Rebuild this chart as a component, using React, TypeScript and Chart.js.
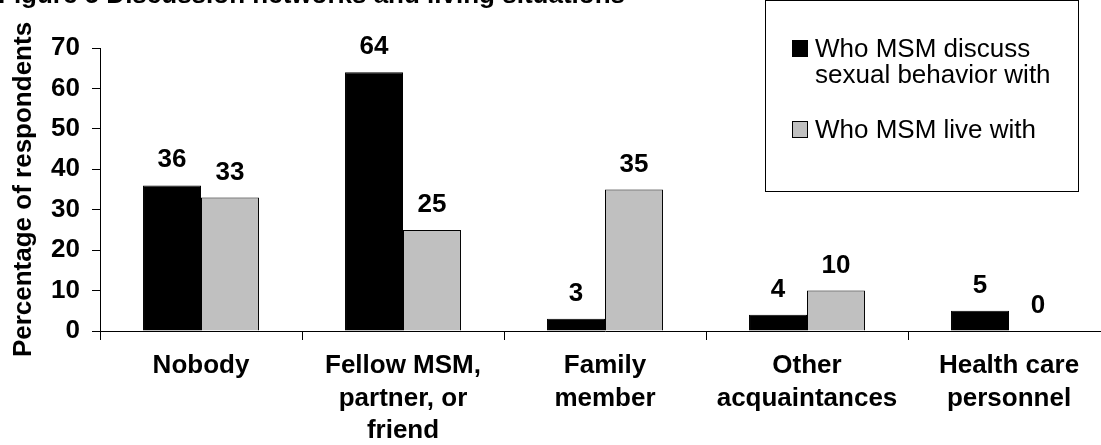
import React, { useEffect, useRef } from "react";
import { Chart, registerables } from "chart.js";

Chart.register(...registerables);

const titleText = "Figure 5 Discussion networks and living situations";
const categories: string[][] = [
  ["Nobody"],
  ["Fellow MSM,", "partner, or", "friend"],
  ["Family", "member"],
  ["Other", "acquaintances"],
  ["Health care", "personnel"],
];
const discussValues = [36, 64, 3, 4, 5];
const liveValues = [33, 25, 35, 10, 0];
const seriesLines: string[][] = [
  ["Who MSM discuss", "sexual behavior with"],
  ["Who MSM live with"],
];
const seriesColors = ["#000000", "#C0C0C0"];
const yTitle = "Percentage of respondents";
const yMin = 0;
const yMax = 70;
const yStep = 10;

const FONT = "'Liberation Sans', Arial, Helvetica, sans-serif";

const titlePlugin = {
  id: "figTitle",
  afterDraw(chart: any) {
    const ctx = chart.ctx;
    ctx.save();
    ctx.font = `bold 26px ${FONT}`;
    ctx.fillStyle = "#000";
    ctx.textAlign = "left";
    ctx.textBaseline = "alphabetic";
    ctx.fillText(titleText, -2, 3);
    ctx.restore();
  },
};

const valueLabelPlugin = {
  id: "valueLabels",
  afterDatasetsDraw(chart: any) {
    const ctx = chart.ctx;
    ctx.save();
    ctx.font = `bold 26px ${FONT}`;
    ctx.fillStyle = "#000";
    ctx.textAlign = "center";
    ctx.textBaseline = "alphabetic";
    chart.data.datasets.forEach((ds: any, di: number) => {
      const meta = chart.getDatasetMeta(di);
      meta.data.forEach((el: any, i: number) => {
        ctx.fillText(String(ds.data[i]), el.x, el.y - 18);
      });
    });
    ctx.restore();
  },
};

const boxLegendPlugin = {
  id: "boxLegend",
  afterDraw(chart: any) {
    const ctx = chart.ctx;
    ctx.save();
    ctx.strokeStyle = "#000";
    ctx.lineWidth = 1;
    ctx.strokeRect(765.5, 0.5, 313, 191);
    ctx.font = `26px ${FONT}`;
    ctx.fillStyle = "#000";
    ctx.textAlign = "left";
    ctx.textBaseline = "alphabetic";
    chart.data.datasets.forEach((ds: any, di: number) => {
      const base = 57 + di * 81;
      ctx.fillStyle = ds.backgroundColor;
      ctx.fillRect(792, base - 17, 16, 17);
      ctx.strokeStyle = "#000";
      ctx.strokeRect(792.5, base - 16.5, 15, 16);
      ctx.fillStyle = "#000";
      const lines = seriesLines[di];
      lines.forEach((ln, li) => {
        ctx.fillText(ln, 815, base + li * 26);
      });
    });
    ctx.restore();
  },
};

export default function App() {
  const ref = useRef<HTMLCanvasElement | null>(null);
  useEffect(() => {
    if (!ref.current) return;
    const chart = new Chart(ref.current, {
      type: "bar",
      data: {
        labels: categories,
        datasets: [
          {
            label: seriesLines[0].join(" "),
            data: discussValues,
            backgroundColor: seriesColors[0],
            borderColor: "#000",
            borderWidth: 1,
          },
          {
            label: seriesLines[1].join(" "),
            data: liveValues,
            backgroundColor: seriesColors[1],
            borderColor: "#000",
            borderWidth: 1,
          },
        ],
      },
      options: {
        animation: false,
        responsive: false,
        maintainAspectRatio: false,
        layout: { padding: { top: 48, right: 20, left: 0, bottom: 0 } },
        datasets: { bar: { categoryPercentage: 0.574, barPercentage: 1 } },
        plugins: {
          legend: { display: false },
          tooltip: { enabled: false },
          title: { display: false },
        },
        scales: {
          x: {
            grid: {
              offset: true,
              drawOnChartArea: false,
              drawTicks: true,
              tickLength: 9,
              color: "#000",
            },
            border: { display: true, color: "#000", width: 1 },
            ticks: {
              color: "#000",
              padding: 10,
              maxRotation: 0,
              autoSkip: false,
              font: { family: FONT, size: 26, weight: "bold", lineHeight: 1.25 },
            },
            afterFit(scale: any) {
              scale.height = 114;
            },
          },
          y: {
            min: yMin,
            max: yMax,
            ticks: {
              stepSize: yStep,
              color: "#000",
              padding: 12,
              font: { family: FONT, size: 26, weight: "bold" },
            },
            grid: {
              drawOnChartArea: false,
              drawTicks: true,
              tickLength: 8,
              color: "#000",
            },
            border: { display: true, color: "#000", width: 1 },
            title: {
              display: true,
              text: yTitle,
              color: "#000",
              padding: { top: 8, bottom: 0 },
              font: { family: FONT, size: 26, weight: "bold", lineHeight: 1.2 },
            },
            afterFit(scale: any) {
              scale.width = 100;
            },
          },
        },
      },
      plugins: [valueLabelPlugin, boxLegendPlugin, titlePlugin],
    });
    return () => chart.destroy();
  }, []);
  return (
    <div
      style={{
        position: "absolute",
        left: 0,
        top: 0,
        width: 1101,
        height: 445,
        overflow: "hidden",
        background: "#fff",
      }}
    >
      <canvas ref={ref} width={1130} height={445} style={{ width: 1130, height: 445, display: "block" }} />
    </div>
  );
}
